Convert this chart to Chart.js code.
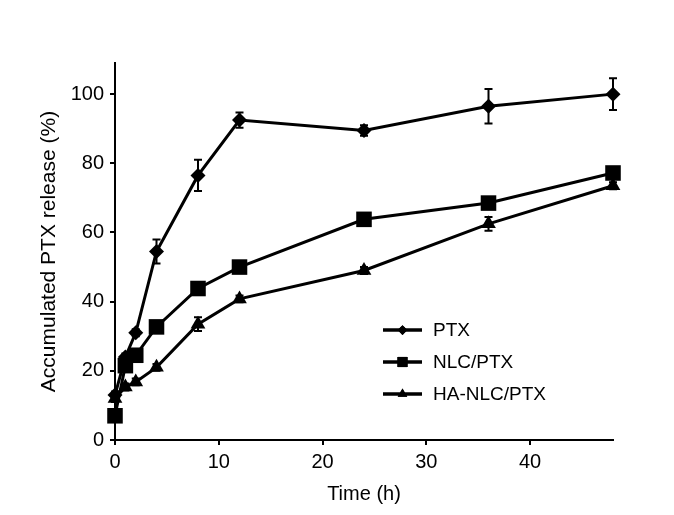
<!DOCTYPE html>
<html>
<head>
<meta charset="utf-8">
<script src="https://cdn.jsdelivr.net/npm/chart.js@4.4.1/dist/chart.umd.min.js"></script>
<style>
  html, body { margin: 0; padding: 0; background: #fff; }
  #wrap { width: 674px; height: 515px; position: relative; }
</style>
</head>
<body>
<div id="wrap"><canvas id="myChart"></canvas></div>
<script>
// time points (h)
const times = [0, 1, 2, 4, 8, 12, 24, 36, 48];

// accumulated release (%)
const ptx = [13, 24, 31, 54.5, 76.5, 92.5, 89.5, 96.5, 100];
const nlcPtx = [7, 21.5, 24.5, 32.7, 43.8, 50, 63.8, 68.5, 77.2];
const haNlcPtx = [12, 15.3, 16.8, 21, 33.5, 40.8, 49, 62.5, 73.5];

// standard deviations
const ptxErr = [1, 1, 1, 3.5, 4.5, 2.2, 1.5, 5, 4.6];
const nlcErr = [1, 1, 1, 1, 1, 1, 1, 1, 1];
const haErr = [1, 1, 1, 1, 2, 1, 1, 2, 1];

const seriesNames = ['PTX', 'NLC/PTX', 'HA-NLC/PTX'];
const yTicks = [0, 20, 40, 60, 80, 100];
const xTicks = [0, 10, 20, 30, 40];

const fontFamily = '"Liberation Sans", Arial, sans-serif';

function toPoints(values) {
    return times.map((t, i) => ({ x: t, y: values[i] }));
}

// draws the error bars with the chart's own scales
const errorBars = {
    id: 'errorBars',
    afterDatasetsDraw(chart) {
        const ctx = chart.ctx;
        const xs = chart.scales.x;
        const ys = chart.scales.y;
        ctx.save();
        ctx.strokeStyle = '#000';
        ctx.lineWidth = 2;
        chart.data.datasets.forEach(ds => {
            ds.data.forEach((p, i) => {
                const e = ds.errors[i];
                const px = xs.getPixelForValue(p.x);
                const top = ys.getPixelForValue(p.y + e);
                const bot = ys.getPixelForValue(p.y - e);
                ctx.beginPath();
                ctx.moveTo(px, top); ctx.lineTo(px, bot);
                ctx.moveTo(px - 4, top); ctx.lineTo(px + 4, top);
                ctx.moveTo(px - 4, bot); ctx.lineTo(px + 4, bot);
                ctx.stroke();
            });
        });
        ctx.restore();
    }
};

// legend drawn inside the plot, line with marker in the middle
const innerLegend = {
    id: 'innerLegend',
    afterDraw(chart) {
        const ctx = chart.ctx;
        const x0 = 383, x1 = 422, textX = 433;
        const rows = [330, 362, 394];
        ctx.save();
        chart.data.datasets.forEach((ds, i) => {
            const y = rows[i];
            ctx.strokeStyle = '#000';
            ctx.lineWidth = 3.5;
            ctx.beginPath();
            ctx.moveTo(x0, y); ctx.lineTo(x1, y);
            ctx.stroke();
            ctx.fillStyle = '#000';
            Chart.helpers.drawPoint(ctx, {
                pointStyle: ds.pointStyle,
                radius: ds.pointRadius * 0.65,
                borderWidth: 0
            }, (x0 + x1) / 2, y);
            ctx.fill();
            ctx.font = '19px ' + fontFamily;
            ctx.textBaseline = 'middle';
            ctx.fillText(ds.label, textX, y + 1);
        });
        ctx.restore();
    }
};

const ctx = document.getElementById('myChart').getContext('2d');
const myChart = new Chart(ctx, {
    type: 'line',
    data: {
        datasets: [
            {
                label: seriesNames[0],
                data: toPoints(ptx),
                errors: ptxErr,
                pointStyle: 'rectRot',
                pointRadius: 7.5
            },
            {
                label: seriesNames[1],
                data: toPoints(nlcPtx),
                errors: nlcErr,
                pointStyle: 'rect',
                pointRadius: 11
            },
            {
                label: seriesNames[2],
                data: toPoints(haNlcPtx),
                errors: haErr,
                pointStyle: 'triangle',
                pointRadius: 8.5
            }
        ].map(ds => Object.assign(ds, {
            borderColor: '#000',
            backgroundColor: '#000',
            borderWidth: 3,
            pointBorderWidth: 0,
            tension: 0,
            clip: false
        }))
    },
    options: {
        responsive: true,
        maintainAspectRatio: false,
        animation: false,
        events: [],
        layout: { padding: { top: 63, right: 61, left: 0, bottom: 0 } },
        plugins: {
            legend: { display: false },
            tooltip: { enabled: false }
        },
        scales: {
            x: {
                type: 'linear',
                min: 0,
                max: 48,
                afterBuildTicks: scale => { scale.ticks = xTicks.map(v => ({ value: v })); },
                afterFit: scale => { scale.height = 75; },
                grid: { drawOnChartArea: false, drawTicks: true, tickLength: 5, color: '#000', lineWidth: 2 },
                border: { color: '#000', width: 2 },
                ticks: { color: '#000', padding: 5, maxRotation: 0, font: { family: fontFamily, size: 20 } },
                title: {
                    display: true,
                    text: 'Time (h)',
                    color: '#000',
                    padding: { top: 0, bottom: 9 },
                    font: { family: fontFamily, size: 20 }
                }
            },
            y: {
                min: 0,
                max: 109,
                afterBuildTicks: scale => { scale.ticks = yTicks.map(v => ({ value: v })); },
                afterFit: scale => { scale.width = 115; },
                grid: { drawOnChartArea: false, drawTicks: true, tickLength: 5, color: '#000', lineWidth: 2 },
                border: { color: '#000', width: 2 },
                ticks: { color: '#000', padding: 6, font: { family: fontFamily, size: 20 } },
                title: {
                    display: true,
                    text: 'Accumulated PTX release (%)',
                    color: '#000',
                    padding: { top: 37, bottom: 0 },
                    font: { family: fontFamily, size: 21 }
                }
            }
        }
    },
    plugins: [errorBars, innerLegend]
});
</script>
</body>
</html>
